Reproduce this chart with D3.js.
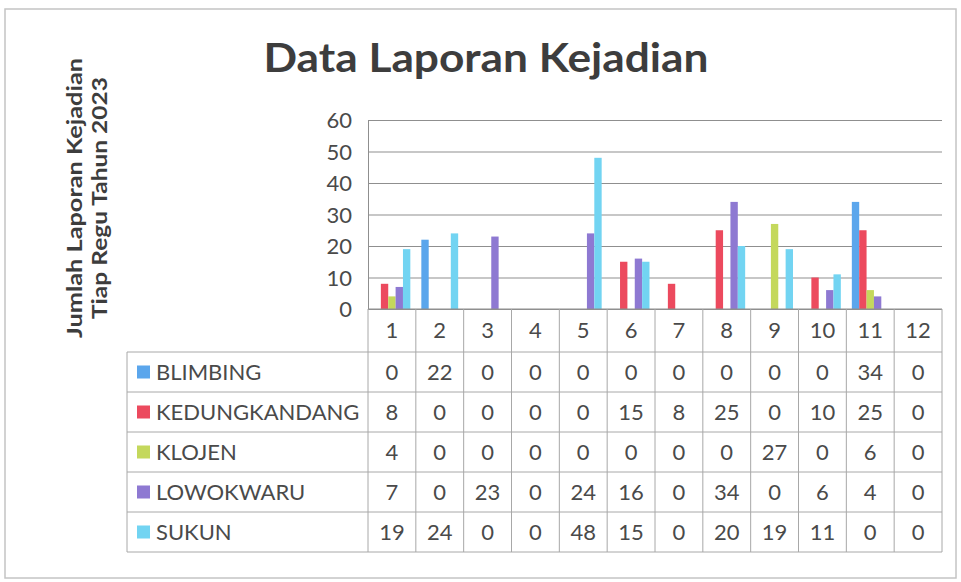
<!DOCTYPE html>
<html><head><meta charset="utf-8">
<script src="https://cdn.jsdelivr.net/npm/d3@7"></script>
<style>body{margin:0;background:#fff}svg{display:block}text{font-family:Lato,"Open Sans",sans-serif}</style>
</head><body>
<svg id="c" width="961" height="582"></svg>
<script>
const categories = ["1","2","3","4","5","6","7","8","9","10","11","12"];
const seriesNames = ["BLIMBING","KEDUNGKANDANG","KLOJEN","LOWOKWARU","SUKUN"];
const blimbing      = [0,22,0,0,0,0,0,0,0,0,34,0];
const kedungkandang = [8,0,0,0,0,15,8,25,0,10,25,0];
const klojen        = [4,0,0,0,0,0,0,0,27,0,6,0];
const lowokwaru     = [7,0,23,0,24,16,0,34,0,6,4,0];
const sukun         = [19,24,0,0,48,15,0,20,19,11,0,0];
const yTicks = [0,10,20,30,40,50,60];
const colors = ["#5ba6ec","#ec4a5e","#c4d85c","#8e79d2","#72d4f2"];
const title = "Data Laporan Kejadian";
const yTitle = ["Jumlah Laporan Kejadian","Tiap Regu Tahun 2023"];

const seriesValues = [blimbing,kedungkandang,klojen,lowokwaru,sukun];
const svg = d3.select("#c");
const textCol = "#4a4a4a";

// outer frame
svg.append("rect").attr("x",5).attr("y",9).attr("width",951).attr("height",569)
  .attr("fill","none").attr("stroke","#c4c4c4").attr("stroke-width",1.5);

const plotL = 368, plotR = 942, plotT = 120, plotB = 309;
const x = d3.scaleBand().domain(categories).range([plotL, plotR]).padding(0);
const inner = d3.scaleBand().domain(seriesNames).range([5.5, x.bandwidth()-5.5]).padding(0);
const y = d3.scaleLinear().domain([0,60]).range([plotB, plotT]);

// gridlines
const yAxis = d3.axisLeft(y).tickValues(yTicks).tickSize(-(plotR-plotL)).tickPadding(16);
const ga = svg.append("g").attr("transform",`translate(${plotL},0)`).call(yAxis);
ga.select(".domain").attr("stroke","#8f8f8f");
ga.selectAll(".tick line").attr("stroke","#8f8f8f").attr("stroke-width",1);
ga.selectAll(".tick text").attr("fill",textCol).style("font-size","22px").attr("dy","0.35em");

// bars
seriesNames.forEach((s,si)=>{
  svg.append("g").selectAll("rect").data(seriesValues[si]).join("rect")
    .attr("x",(d,i)=>x(categories[i])+inner(s))
    .attr("width",inner.bandwidth())
    .attr("y",d=>y(d))
    .attr("height",d=>y(0)-y(d))
    .attr("fill",colors[si]);
});

// data table
const rowTop = 352, rowH = 40, legL = 127;
const tbl = svg.append("g");
const lineCol = "#a8a8a8";
tbl.append("line").attr("x1",plotL).attr("x2",plotR).attr("y1",plotB).attr("y2",plotB).attr("stroke","#8f8f8f");
const bottom = rowTop + rowH*seriesNames.length;
categories.forEach(c=>{
  tbl.append("line").attr("x1",x(c)).attr("x2",x(c)).attr("y1",plotB).attr("y2",bottom).attr("stroke",lineCol);
});
tbl.append("line").attr("x1",plotR).attr("x2",plotR).attr("y1",plotB).attr("y2",bottom).attr("stroke",lineCol);
tbl.append("line").attr("x1",legL).attr("x2",legL).attr("y1",rowTop).attr("y2",bottom).attr("stroke",lineCol);
for(let r=0;r<=seriesNames.length;r++){
  tbl.append("line").attr("x1",legL).attr("x2",plotR).attr("y1",rowTop+r*rowH).attr("y2",rowTop+r*rowH).attr("stroke",lineCol);
}
tbl.selectAll("text.cat").data(categories).join("text").attr("class","cat")
  .attr("x",d=>x(d)+x.bandwidth()/2).attr("y",(plotB+rowTop)/2).attr("dy","0.35em")
  .attr("text-anchor","middle").attr("fill",textCol).style("font-size","22px").text(d=>d);
seriesNames.forEach((s,si)=>{
  const cy = rowTop + si*rowH + rowH/2;
  tbl.append("rect").attr("x",137).attr("y",cy-6.5).attr("width",13).attr("height",13).attr("fill",colors[si]);
  tbl.append("text").attr("x",156).attr("y",cy).attr("dy","0.35em").attr("fill",textCol)
    .style("font-size","22px").text(s);
  tbl.append("g").selectAll("text").data(seriesValues[si]).join("text")
    .attr("x",(d,i)=>x(categories[i])+x.bandwidth()/2).attr("y",cy).attr("dy","0.35em")
    .attr("text-anchor","middle").attr("fill",textCol).style("font-size","22px").text(d=>d);
});

// title
svg.append("text").attr("x",486).attr("y",72).attr("text-anchor","middle")
  .attr("fill","#3d3d3d").style("font-size","41px").style("font-weight","bold")
  .attr("textLength",445).attr("lengthAdjust","spacingAndGlyphs").text(title);

// y title
const yt = svg.append("text").attr("transform","translate(87,198) rotate(-90)")
  .attr("text-anchor","middle").attr("fill","#3d3d3d").style("font-size","21px").style("font-weight","bold");
const tl = [280,242];
yt.selectAll("tspan").data(yTitle).join("tspan").attr("x",0)
  .attr("dy",(d,i)=>i===0?"-0.25em":"1.2em")
  .attr("textLength",(d,i)=>tl[i]).attr("lengthAdjust","spacingAndGlyphs").text(d=>d);
</script>
</body></html>
